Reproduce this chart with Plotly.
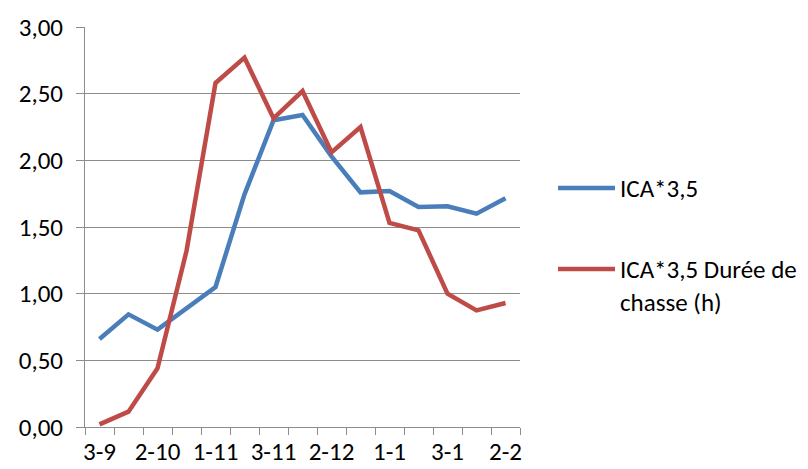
import plotly.graph_objects as go

categories = ["3-9", "4-9", "2-10", "3-10", "1-11", "2-11", "3-11", "4-11",
              "2-12", "3-12", "1-1", "2-1", "3-1", "4-1", "2-2"]
shown_labels = ["3-9", "2-10", "1-11", "3-11", "2-12", "1-1", "3-1", "2-2"]
ica = [0.66, 0.845, 0.73, 0.89, 1.05, 1.745, 2.30, 2.34, 2.03, 1.76,
       1.77, 1.65, 1.655, 1.60, 1.715]
ica_duree = [0.02, 0.115, 0.44, 1.32, 2.58, 2.77, 2.315, 2.52, 2.06, 2.25,
             1.53, 1.475, 1.00, 0.875, 0.93]
series_names = ["ICA*3,5", "ICA*3,5 Durée de<br>chasse (h)"]
y_ticks = [0, 0.5, 1.0, 1.5, 2.0, 2.5, 3.0]

BLUE = "#4A7EBB"
RED = "#BE4B48"
GRID = "#8C8C8C"
FONT = "Calibri, Carlito, Lato, sans-serif"
FS = 25
OFF = 8  # page body margin
W, H = 808 - OFF, 469 - OFF
L, R, T = 85 - OFF, 288, 27 - OFF
PH = 400
B = H - T - PH
PW = W - L - R


def px_x(p):
    return (p - OFF - L) / PW


def px_y(p):
    return (T + PH - (p - OFF)) / PH


fig = go.Figure()
for vals, name, col in [(ica, series_names[0], BLUE), (ica_duree, series_names[1], RED)]:
    fig.add_trace(go.Scatter(x=categories, y=vals, mode="lines", name=name,
                             line=dict(color=col, width=4.5),
                             showlegend=False))

# custom legend
leg_y = [188, 269]
for i, (name, col) in enumerate([(series_names[0], BLUE), (series_names[1], RED)]):
    fig.add_shape(type="line", xref="paper", yref="paper",
                  x0=px_x(558), x1=px_x(615), y0=px_y(leg_y[i]), y1=px_y(leg_y[i]),
                  line=dict(color=col, width=4.5))
fig.add_annotation(xref="paper", yref="paper", x=px_x(618), y=px_y(188),
                   text=series_names[0], showarrow=False, xanchor="left",
                   yanchor="middle", align="left",
                   font=dict(family=FONT, size=FS, color="#000"))
fig.add_annotation(xref="paper", yref="paper", x=px_x(618), y=px_y(286),
                   text=series_names[1], showarrow=False, xanchor="left",
                   yanchor="middle", align="left",
                   font=dict(family=FONT, size=FS, color="#000"))

ticktext = [c if c in shown_labels else "" for c in categories]

fig.update_layout(
    width=W, height=H,
    margin=dict(l=L, r=R, t=T, b=B, pad=0, autoexpand=False),
    paper_bgcolor="white", plot_bgcolor="white",
    separators=", ",
    font=dict(family=FONT, size=FS, color="#000"),
    showlegend=False,
    xaxis=dict(type="category", range=[-0.5, len(categories) - 0.5],
               automargin=False,
               tickmode="array", tickvals=categories, ticktext=ticktext,
               tickson="boundaries", ticks="outside", ticklen=7,
               tickcolor=GRID, tickwidth=1, showgrid=False,
               showline=True, linecolor=GRID, linewidth=1,
               ticklabelstandoff=2, tickangle=0,
               tickfont=dict(family=FONT, size=FS, color="#000")),
    yaxis=dict(range=[0, 3], tickvals=y_ticks, tickformat=".2f",
               automargin=False,
               ticks="outside", ticklen=8, tickcolor=GRID, tickwidth=1,
               showgrid=True, gridcolor=GRID, gridwidth=1,
               showline=True, linecolor=GRID, linewidth=1, zeroline=False,
               ticklabelstandoff=8,
               tickfont=dict(family=FONT, size=FS, color="#000")),
)

fig.write_html("out.html")
